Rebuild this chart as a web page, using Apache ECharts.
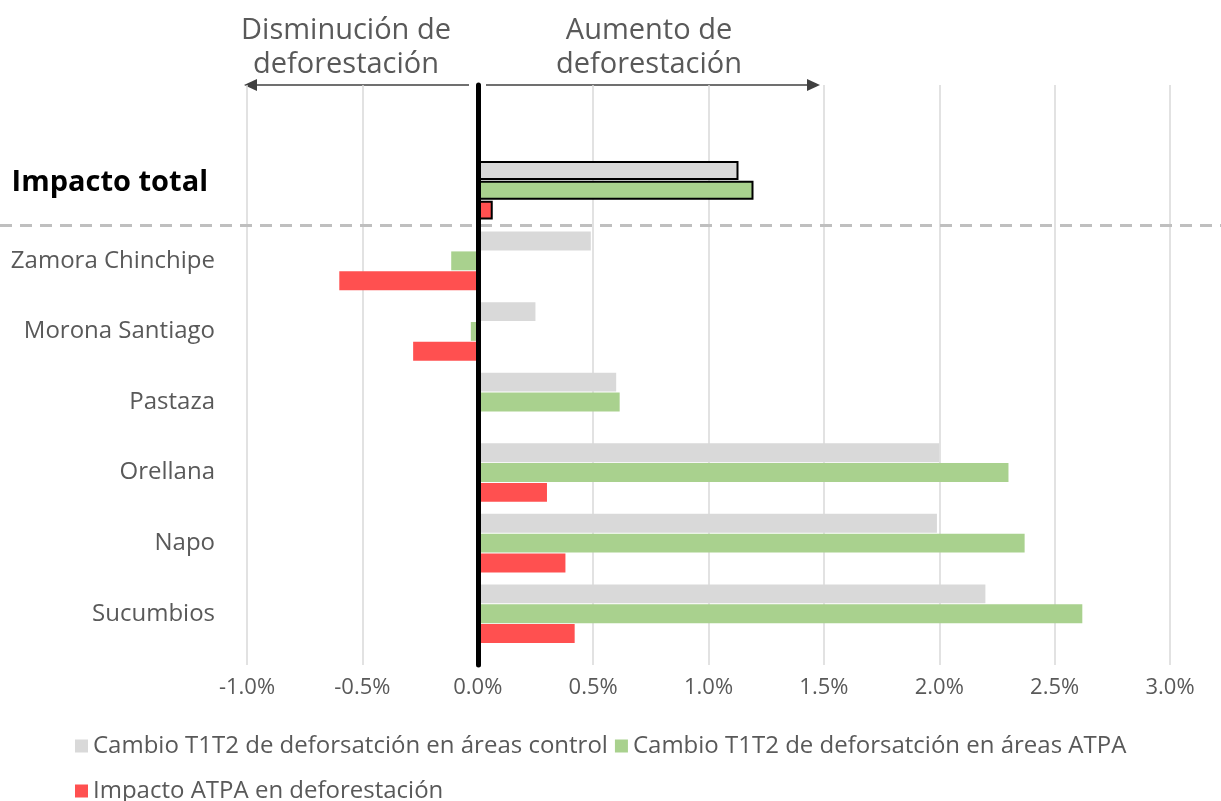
<!DOCTYPE html>
<html>
<head>
<meta charset="utf-8">
<script src="https://cdn.jsdelivr.net/npm/echarts@6/dist/echarts.min.js"></script>
<style>
  html, body { margin: 0; padding: 0; background: #fff; }
  #chart { width: 1221px; height: 801px; }
</style>
</head>
<body>
<div id="chart"></div>
<script>
var categories = ['Impacto total', 'Zamora Chinchipe', 'Morona Santiago', 'Pastaza', 'Orellana', 'Napo', 'Sucumbios'];
var seriesNames = [
    'Cambio T1T2 de deforsatción en áreas control',
    'Cambio T1T2 de deforsatción en áreas ATPA',
    'Impacto ATPA en deforestación'
];
// valores en %
var controlValues = [1.13, 0.49, 0.25, 0.60, 2.00, 1.99, 2.20];
var atpaValues = [1.195, -0.115, -0.03, 0.615, 2.30, 2.37, 2.62];
var impactValues = [0.065, -0.60, -0.28, 0.0, 0.30, 0.38, 0.42];
var xTicks = { min: -1.0, max: 3.0, step: 0.5 };

var colors = ['#d9d9d9', '#a9d18e', '#ff5050'];
var font = 'Open Sans';

function withTotalBorder(values) {
    return values.map(function (v, i) {
        if (i === 0) {
            return { value: v, itemStyle: { borderColor: '#000', borderWidth: 2 } };
        }
        return v;
    });
}

function barSeries(idx, values) {
    return {
        name: seriesNames[idx],
        type: 'bar',
        xAxisIndex: 1,
        yAxisIndex: 1,
        barCategoryGap: '17%',
        barGap: '5%',
        itemStyle: { color: colors[idx] },
        data: withTotalBorder(values)
    };
}

var option = {
    animation: false,
    textStyle: { fontFamily: font },
    grid: [
        { left: 247, right: 51, top: 85, bottom: 136 },
        { left: 247, right: 51, top: 155, height: 494 }
    ],
    xAxis: [
        {
            gridIndex: 0,
            type: 'value',
            min: xTicks.min,
            max: xTicks.max,
            interval: xTicks.step,
            axisLine: { show: false },
            axisTick: { show: false },
            splitLine: { show: true, lineStyle: { color: '#d9d9d9', width: 1.5 } },
            axisLabel: {
                fontSize: 22,
                color: '#595959',
                margin: 12,
                fontFamily: font,
                formatter: function (v) { return v.toFixed(1) + '%'; }
            }
        },
        {
            gridIndex: 1,
            type: 'value',
            min: xTicks.min,
            max: xTicks.max,
            interval: xTicks.step,
            show: false
        }
    ],
    yAxis: [
        {
            gridIndex: 0,
            type: 'value',
            min: 0,
            max: 1,
            z: 10,
            axisLine: { show: true, onZero: true, lineStyle: { color: '#000', width: 5 } },
            axisTick: { show: false },
            axisLabel: { show: false },
            splitLine: { show: false }
        },
        {
            gridIndex: 1,
            type: 'category',
            inverse: true,
            data: categories,
            axisLine: { show: false },
            axisTick: { show: false },
            axisLabel: {
                fontSize: 24,
                color: '#595959',
                margin: 32,
                fontFamily: font,
                formatter: function (v, i) {
                    return i === 0 ? '{b|' + v + '}' : v;
                },
                rich: {
                    b: {
                        fontSize: 29,
                        fontWeight: 'bold',
                        color: '#000',
                        fontFamily: font,
                        padding: [0, 7, 16, 0]
                    }
                }
            }
        }
    ],
    legend: {
        left: 70,
        top: 722,
        width: 1110,
        itemWidth: 13,
        itemHeight: 13,
        itemGap: 7,
        icon: 'rect',
        textStyle: { fontSize: 24, color: '#595959', fontFamily: font, lineHeight: 38 },
        data: seriesNames
    },
    series: [
        barSeries(0, controlValues),
        barSeries(1, atpaValues),
        barSeries(2, impactValues)
    ],
    graphic: [
        {
            type: 'line',
            shape: { x1: 0, y1: 225.5, x2: 1221, y2: 225.5 },
            style: { stroke: '#bfbfbf', lineWidth: 3, lineDash: [12, 8] },
            z: 1
        },
        {
            type: 'line',
            shape: { x1: 256, y1: 85, x2: 469, y2: 85 },
            style: { stroke: '#404040', lineWidth: 1.5 }
        },
        {
            type: 'polygon',
            shape: { points: [[244, 85], [257, 79], [257, 91]] },
            style: { fill: '#404040' }
        },
        {
            type: 'line',
            shape: { x1: 486, y1: 85, x2: 808, y2: 85 },
            style: { stroke: '#404040', lineWidth: 1.5 }
        },
        {
            type: 'polygon',
            shape: { points: [[820, 85], [807, 79], [807, 91]] },
            style: { fill: '#404040' }
        },
        {
            type: 'text',
            x: 346, y: 48,
            style: {
                text: 'Disminución de\ndeforestación',
                font: '29px "Open Sans"',
                fill: '#595959',
                align: 'center',
                verticalAlign: 'middle',
                lineHeight: 34
            }
        },
        {
            type: 'text',
            x: 649, y: 48,
            style: {
                text: 'Aumento de\ndeforestación',
                font: '29px "Open Sans"',
                fill: '#595959',
                align: 'center',
                verticalAlign: 'middle',
                lineHeight: 34
            }
        }
    ]
};

echarts.init(document.getElementById('chart')).setOption(option);
</script>
</body>
</html>
